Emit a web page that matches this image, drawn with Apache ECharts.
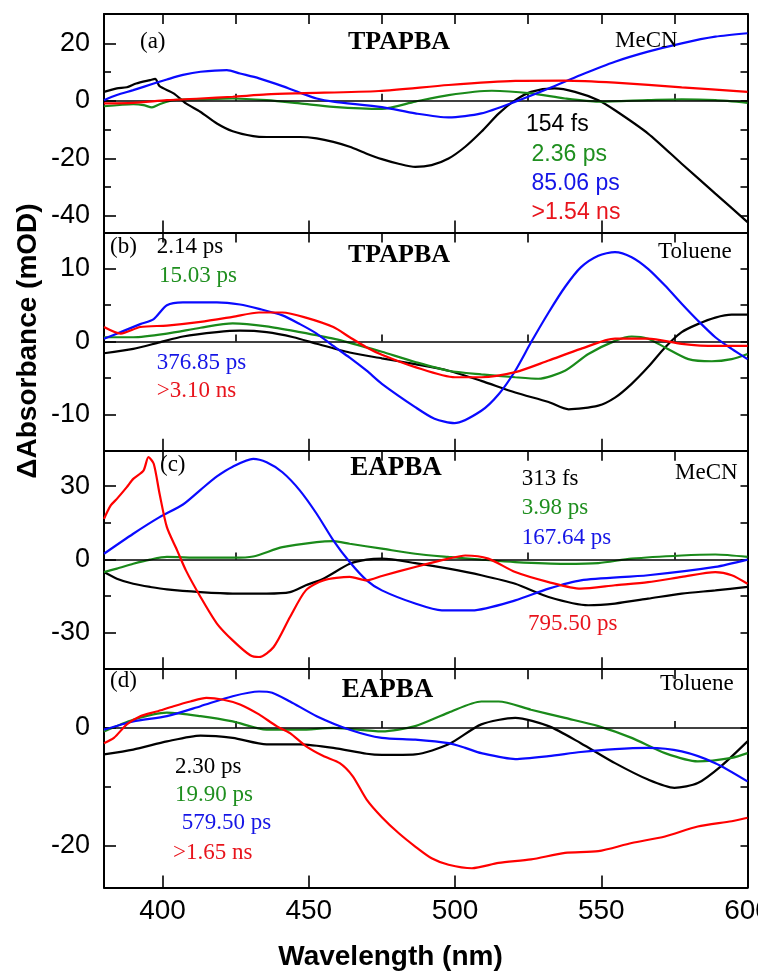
<!DOCTYPE html>
<html>
<head>
<meta charset="utf-8">
<script src="https://cdn.jsdelivr.net/npm/echarts@6/dist/echarts.min.js"></script>
<style>
html,body{margin:0;padding:0;background:#fff;}
#chart{width:758px;height:972px;}
</style>
</head>
<body>
<div id="chart"></div>
<script>
// ---------------- DATA ----------------
// Wavelength axis
var xTickMajor = [400, 450, 500, 550];
var xTickMinor = [425, 475, 525, 575];
var xLabelValues = [400, 450, 500, 550, 600];

// Panel (a) TPAPBA in MeCN  [wavelength nm, ΔA mOD]
var aBlack = [[380,3.1],[384.4,4.3],[387.8,4.7],[391,6],[395.8,7.2],[397.5,7.6],[399,5.1],[403.8,2.6],[408,-0.9],[412.9,-3.8],[418.6,-7.9],[424,-10.6],[431,-12.3],[435.6,-12.6],[447,-12.6],[452.7,-13.1],[458.4,-14.3],[464,-16],[469.8,-18.4],[475,-20.3],[480.7,-21.9],[486.4,-23],[492,-22.4],[497.8,-20.1],[503.5,-16],[509,-10.8],[515,-4.4],[520.6,0.2],[526,3.1],[534,4.3],[541,3.1],[549,0.2],[554.7,-3.3],[566,-11.4],[577.5,-21.9],[589,-32.3],[600,-42.2]];
var aGreen = [[380,-1.9],[390,-1.2],[393.5,-1.5],[396.4,-2.3],[399,-1.2],[403.8,0.2],[413,0.5],[424,0.8],[435.6,0.2],[447,-0.9],[458.4,-2.1],[475,-2.8],[486.4,-0.3],[497.8,2],[512.6,3.5],[526,2.6],[537.6,0.8],[549,-0.3],[566,0.2],[577.5,0.5],[589,0.2],[600,-0.7]];
var aBlue = [[380,0.2],[384.4,2],[390,3.7],[397,6],[401.5,7.4],[407,9],[413,10.1],[422,10.7],[426.5,9.5],[433,7.8],[441,5.1],[447,2.8],[452.7,0.8],[458.4,-0.3],[475,-2.2],[486.4,-4.4],[497.8,-5.8],[509,-4.4],[520.6,-0.3],[532,4.3],[543,9],[554.7,13.6],[566,17.1],[577.5,20],[589,22.3],[600,23.5]];
var aRed = [[380,-0.9],[390,-0.7],[401.5,0.2],[413,0.8],[424,1.4],[435.6,2.2],[447,2.6],[474,3.4],[497.8,5.5],[520.6,6.9],[537.6,7],[554.7,6.3],[577.5,4.7],[600,3.1]];

// Panel (b) TPAPBA in Toluene
var bBlack = [[380,-1.6],[390,-1],[399,-0.1],[407,0.7],[418.6,1.3],[426.5,1.5],[435.6,1.3],[444.8,0.6],[452.7,-0.3],[464,-1.5],[475,-2.3],[486.4,-3.1],[497.8,-4],[509,-5.4],[520.6,-7],[532,-8.3],[538.8,-9.3],[549,-8.8],[554.7,-7.7],[560.4,-5.8],[566,-3.5],[571.8,-0.8],[577.5,1.3],[583,2.4],[589,3.3],[594.6,3.7],[600,3.7]];
var bGreen = [[380,0.6],[390,0.6],[401.5,1.1],[413,1.9],[424,2.5],[435.6,2.1],[447,1.3],[458.4,0.4],[469.8,-0.8],[475,-1.4],[486.4,-2.8],[497.8,-4],[509,-4.5],[520.6,-4.9],[528.5,-5.1],[537.6,-4],[545.6,-1.7],[554.7,0.1],[560.4,0.7],[566,0.4],[571.8,-0.8],[579.8,-2.4],[587.8,-2.7],[594.6,-2.4],[600,-1.7]];
var bBlue = [[380,0.4],[385.7,1.3],[392.4,2.4],[397,3.1],[401.5,5],[407,5.4],[418.6,5.4],[426.5,5.1],[433,4.5],[441,3.6],[447,2.4],[452.7,1.1],[458.4,-0.6],[464,-2.2],[469.8,-4],[475,-5.8],[486.4,-9],[493,-10.6],[499.8,-11.2],[509,-9.5],[515,-7.2],[520.6,-4],[526,-0.1],[532,4],[537.6,7.5],[543,10.2],[549,11.8],[554.7,12.3],[560.4,11.6],[566,10],[571.8,7.7],[577.5,5.2],[583,2.9],[589,0.6],[594.6,-1],[600,-2.4]];
var bRed = [[380,2],[385.7,1.1],[392.4,2],[401.5,2.2],[413,2.7],[424,3.4],[433,4],[441,4],[449,3.3],[458.4,2],[464,0.6],[469.8,-0.8],[475,-1.8],[486.4,-3.5],[500,-4.9],[509,-4.9],[520.6,-4.2],[532,-2.6],[543,-1],[554.7,0.4],[566,0.4],[577.5,-0.3],[589,-0.6],[600,-0.6]];

// Panel (c) EAPBA in MeCN
var cBlack = [[380,-5.2],[384.4,-7.9],[390,-10],[395.8,-11.3],[401.5,-12.3],[413,-13.4],[424,-14],[435.6,-14],[443.6,-13.4],[449,-10.6],[455,-7.9],[464,-1.8],[469.8,-0.1],[475,0.3],[486.4,-1.5],[497.8,-3.8],[509,-6.5],[520.6,-10],[532,-15.4],[545.6,-18.8],[554.7,-18.1],[566,-16.1],[577.5,-14],[589,-12.7],[600,-11.3]];
var cGreen = [[380,-5.2],[384.4,-3.8],[390,-1.8],[395.8,-0.1],[401.5,1],[413,0.7],[424,0.7],[431,1.2],[441,5],[452.7,7.1],[458.4,7.5],[464,6.4],[475,4.4],[486.4,2.3],[497.8,1],[509,-0.1],[520.6,-1.1],[537.6,-1.8],[549,-1.5],[560.4,0.3],[577.5,1.6],[589,2],[600,1]];
var cBlue = [[380,2.3],[390,10.5],[399,17.3],[407,22.5],[413,28.5],[418.6,34],[424,38],[431,41.2],[435.6,39.8],[441,35.7],[447,28.2],[452.7,18.7],[458.4,7.8],[464,-1.1],[469.8,-8.6],[475,-12.7],[486.4,-18.1],[495.5,-20.9],[505.8,-20.9],[520.6,-16.8],[532,-12],[543,-8.6],[566,-6.5],[589,-3.1],[600,-0.1]];
var cRed = [[380,16.6],[382.3,22.1],[384.4,24.8],[387.8,29.6],[390,33],[393.5,36.4],[395.2,41.9],[397,39.2],[399,26.9],[401.5,13.2],[405,3.7],[408,-4.5],[413,-15.4],[418.6,-26.3],[424,-33.2],[430,-39.3],[433,-40],[438,-35.9],[443.6,-23.6],[449,-12.7],[455,-8.6],[464,-7.2],[469.8,-8.6],[475,-6.8],[486.4,-3.1],[497.8,0.3],[503.5,1.6],[511.4,0.3],[520.6,-5.2],[532,-9.3],[543,-12],[554.7,-10.6],[566,-9.3],[577.5,-7.2],[589,-5.2],[594.6,-6.5],[600,-10]];

// Panel (d) EAPBA in Toluene
var dBlack = [[380,-4.5],[390,-3.7],[401.5,-2.3],[413,-1.3],[424,-1.7],[435.6,-2.8],[447,-2.8],[458.4,-3.4],[469.8,-4.4],[475,-4.6],[486.4,-4.5],[497.8,-2.8],[509,0.6],[520.6,1.7],[532,0.3],[543,-2.6],[554.7,-6],[566,-8.8],[575,-10.2],[583,-9.4],[591,-6.5],[600,-2.3]];
var dGreen = [[380,-0.6],[390,1.4],[401.5,2.6],[413,2],[424,1.1],[435.6,-0.3],[447,-0.3],[458.4,0],[475,-0.6],[486.4,0.3],[497.8,2.6],[509,4.5],[514.9,4.5],[526,3.1],[537.6,1.7],[549,0.3],[560.4,-1.7],[571.8,-4.3],[583,-5.7],[594.6,-5.1],[600,-4.3]];
var dBlue = [[380,-0.3],[390,1.1],[401.5,2],[413,3.7],[424,5.4],[433,6.2],[437.5,6],[443.6,4.5],[452.7,2],[464,-0.3],[475,-1.7],[486.4,-2],[497.8,-2.6],[503.5,-3.4],[509,-4.3],[520.6,-5.3],[532,-4.8],[543,-4.1],[554.7,-3.6],[566,-3.4],[577.5,-4],[589,-6],[600,-9.1]];
var dRed = [[380,-2.6],[383.4,-1.7],[387.8,0.6],[392.4,2],[398,2.8],[403.8,3.7],[409.5,4.5],[415,5.1],[420.8,4.8],[426.5,4],[433,2.3],[439,0.3],[443.6,-0.9],[449,-3.1],[455,-4.8],[460.6,-6],[465,-8.2],[469.8,-12.2],[475,-15.2],[480.7,-17.9],[486.4,-20.2],[492,-22.2],[497.8,-23.3],[505.8,-23.9],[514.9,-23],[526,-22.4],[537.6,-21.3],[549,-21],[560.4,-19.6],[571.8,-18.5],[583,-16.8],[594.6,-15.9],[600,-15.3]];

// Y ranges & ticks per panel
var yRanges = [[-45.8, 30.2], [-15, 15], [-45, 44.5], [-27.2, 10]];
var yLabelTicks = [[-40, -20, 0, 20], [-10, 0, 10], [-30, 0, 30], [-20, 0]];
var yMinorTicks = [[-30, -10, 10], [-5, 5], [-15, 15], [-10]];
var yRightTicks = [[-40, -30, -20, -10, 0, 10, 20], [-10, -5, 0, 5, 10], [-30, -15, 0, 15, 30], [-20, -10, 0]];

// Text labels
var compounds = ['TPAPBA', 'TPAPBA', 'EAPBA', 'EAPBA'];
var solvents = ['MeCN', 'Toluene', 'MeCN', 'Toluene'];
var panelTags = ['(a)', '(b)', '(c)', '(d)'];
var lifetimes = [
  ['154 fs', '2.36 ps', '85.06 ps', '>1.54 ns'],
  ['2.14 ps', '15.03 ps', '376.85 ps', '>3.10 ns'],
  ['313 fs', '3.98 ps', '167.64 ps', '795.50 ps'],
  ['2.30 ps', '19.90 ps', '579.50 ps', '>1.65 ns']
];

// ---------------- CHART ----------------
var SANS = "'Liberation Sans', Arial, Helvetica, sans-serif";
var SERIF = "'Liberation Serif', 'Times New Roman', serif";
var lineColors = ['#000000', '#1a8a1a', '#0a0aff', '#ff0000'];
var textColors = ['#000000', '#1f8f1f', '#1515e6', '#e8141c'];

var panelData = [
  [aBlack, aGreen, aBlue, aRed],
  [bBlack, bGreen, bBlue, bRed],
  [cBlack, cGreen, cBlue, cRed],
  [dBlack, dGreen, dBlue, dRed]
];

var GRID_LEFT = 104, GRID_W = 643.5, GRID_TOP = 14, GRID_H = 218.4;

var grids = [], xAxes = [], yAxes = [], series = [];
for (var i = 0; i < 4; i++) {
  grids.push({left: GRID_LEFT, top: GRID_TOP + i * GRID_H, width: GRID_W, height: GRID_H,
    containLabel: false, outerBoundsMode: 'none'});
  var axLine = {show: true, onZero: false, lineStyle: {color: '#000', width: 2}};
  // x bottom major (with labels on last panel)
  xAxes.push({
    type: 'value', gridIndex: i, position: 'bottom', min: 380, max: 600,
    axisLine: axLine, splitLine: {show: false},
    axisTick: {show: true, inside: true, length: 12, customValues: xTickMajor, lineStyle: {color: '#000', width: 1.6}},
    axisLabel: {show: i === 3, customValues: xLabelValues, margin: 10, color: '#000', fontSize: 28, fontFamily: SANS, showMaxLabel: true, hideOverlap: false}
  });
  // x bottom minor
  xAxes.push({
    type: 'value', gridIndex: i, position: 'bottom', min: 380, max: 600,
    axisLine: {show: false}, splitLine: {show: false}, axisLabel: {show: false},
    axisTick: {show: true, inside: true, length: 7, customValues: xTickMinor, lineStyle: {color: '#000', width: 1.6}}
  });
  // x top
  xAxes.push({
    type: 'value', gridIndex: i, position: 'top', min: 380, max: 600,
    axisLine: axLine, splitLine: {show: false}, axisLabel: {show: false},
    axisTick: {show: true, inside: true, length: 10, customValues: xTickMajor.concat(xTickMinor), lineStyle: {color: '#000', width: 1.6}}
  });
  // y left major
  yAxes.push({
    type: 'value', gridIndex: i, position: 'left', min: yRanges[i][0], max: yRanges[i][1],
    axisLine: axLine, splitLine: {show: false},
    axisTick: {show: true, inside: true, length: 12, customValues: yLabelTicks[i], lineStyle: {color: '#000', width: 1.6}},
    axisLabel: {show: true, customValues: yLabelTicks[i], margin: 14, color: '#000', fontSize: 27, fontFamily: SANS, showMinLabel: true, showMaxLabel: true}
  });
  // y left minor
  yAxes.push({
    type: 'value', gridIndex: i, position: 'left', min: yRanges[i][0], max: yRanges[i][1],
    axisLine: {show: false}, splitLine: {show: false}, axisLabel: {show: false},
    axisTick: {show: true, inside: true, length: 7, customValues: yMinorTicks[i], lineStyle: {color: '#000', width: 1.6}}
  });
  // y right
  yAxes.push({
    type: 'value', gridIndex: i, position: 'right', min: yRanges[i][0], max: yRanges[i][1],
    axisLine: axLine, splitLine: {show: false}, axisLabel: {show: false},
    axisTick: {show: true, inside: true, length: 7, customValues: yRightTicks[i], lineStyle: {color: '#000', width: 1.6}}
  });

  for (var s = 0; s < 4; s++) {
    var ser = {
      type: 'line', xAxisIndex: i * 3, yAxisIndex: i * 3, data: panelData[i][s],
      showSymbol: false, symbol: 'none', smooth: 0.25, clip: true, animation: false,
      lineStyle: {color: lineColors[s], width: 2.2}, z: 3 + s
    };
    if (s === 0) {
      ser.markLine = {
        silent: true, symbol: ['none', 'none'], animation: false,
        label: {show: false},
        lineStyle: {color: '#000', width: 1.6, type: 'solid'},
        data: [{yAxis: 0}]
      };
    }
    series.push(ser);
  }
}

function txt(text, x, y, font, color, align) {
  return {
    type: 'text', x: x, y: y, z: 100,
    style: {text: text, x: 0, y: 0, font: font, fill: color,
      textAlign: align || 'left', textVerticalAlign: 'middle',
      align: align || 'left', verticalAlign: 'middle'}
  };
}

var serif23 = 'normal 23px ' + SERIF;
var sans23 = 'normal 23px ' + SANS;
var bold26 = 'bold 26px ' + SERIF;
var graphics = [];
// panel tags
graphics.push(txt(panelTags[0], 140, 41.7, serif23, '#000'));
graphics.push(txt(panelTags[1], 110, 246.7, serif23, '#000'));
graphics.push(txt(panelTags[2], 160, 465, serif23, '#000'));
graphics.push(txt(panelTags[3], 110, 680.5, serif23, '#000'));
// compound names
graphics.push(txt(compounds[0], 399, 42, bold26, '#000', 'center'));
graphics.push(txt(compounds[1], 399, 255.5, bold26, '#000', 'center'));
graphics.push(txt(compounds[2], 396, 468, 'bold 27px ' + SERIF, '#000', 'center'));
graphics.push(txt(compounds[3], 387.5, 690.5, 'bold 27px ' + SERIF, '#000', 'center'));
// solvents
graphics.push(txt(solvents[0], 615, 41, serif23, '#000'));
graphics.push(txt(solvents[1], 658, 251.5, serif23, '#000'));
graphics.push(txt(solvents[2], 675, 473, serif23, '#000'));
graphics.push(txt(solvents[3], 660, 684, serif23, '#000'));
// lifetimes panel a (sans)
graphics.push(txt(lifetimes[0][0], 526, 125, sans23, textColors[0]));
graphics.push(txt(lifetimes[0][1], 531.5, 154.5, sans23, textColors[1]));
graphics.push(txt(lifetimes[0][2], 531.5, 183.3, sans23, textColors[2]));
graphics.push(txt(lifetimes[0][3], 531.5, 213, sans23, textColors[3]));
// panel b
graphics.push(txt(lifetimes[1][0], 156.7, 246.7, serif23, textColors[0]));
graphics.push(txt(lifetimes[1][1], 159, 276, serif23, textColors[1]));
graphics.push(txt(lifetimes[1][2], 156.7, 362.5, serif23, textColors[2]));
graphics.push(txt(lifetimes[1][3], 156.7, 390.5, serif23, textColors[3]));
// panel c
graphics.push(txt(lifetimes[2][0], 521.7, 479, serif23, textColors[0]));
graphics.push(txt(lifetimes[2][1], 521.7, 508, serif23, textColors[1]));
graphics.push(txt(lifetimes[2][2], 521.7, 537.5, serif23, textColors[2]));
graphics.push(txt(lifetimes[2][3], 528, 624, serif23, textColors[3]));
// panel d
graphics.push(txt(lifetimes[3][0], 175, 766.7, serif23, textColors[0]));
graphics.push(txt(lifetimes[3][1], 175, 795, serif23, textColors[1]));
graphics.push(txt(lifetimes[3][2], 181.7, 823, serif23, textColors[2]));
graphics.push(txt(lifetimes[3][3], 173, 853, serif23, textColors[3]));
// axis titles
graphics.push(txt('Wavelength (nm)', 390.5, 957, 'bold 28px ' + SANS, '#000', 'center'));
var yTitle = txt('\u0394Absorbance (mOD)', 28, 341, 'bold 28px ' + SANS, '#000', 'center');
yTitle.rotation = Math.PI / 2;
graphics.push(yTitle);

var chart = echarts.init(document.getElementById('chart'), null, {renderer: 'canvas'});
chart.setOption({
  animation: false,
  backgroundColor: '#ffffff',
  grid: grids,
  xAxis: xAxes,
  yAxis: yAxes,
  series: series,
  graphic: {elements: graphics}
});
</script>
</body>
</html>
